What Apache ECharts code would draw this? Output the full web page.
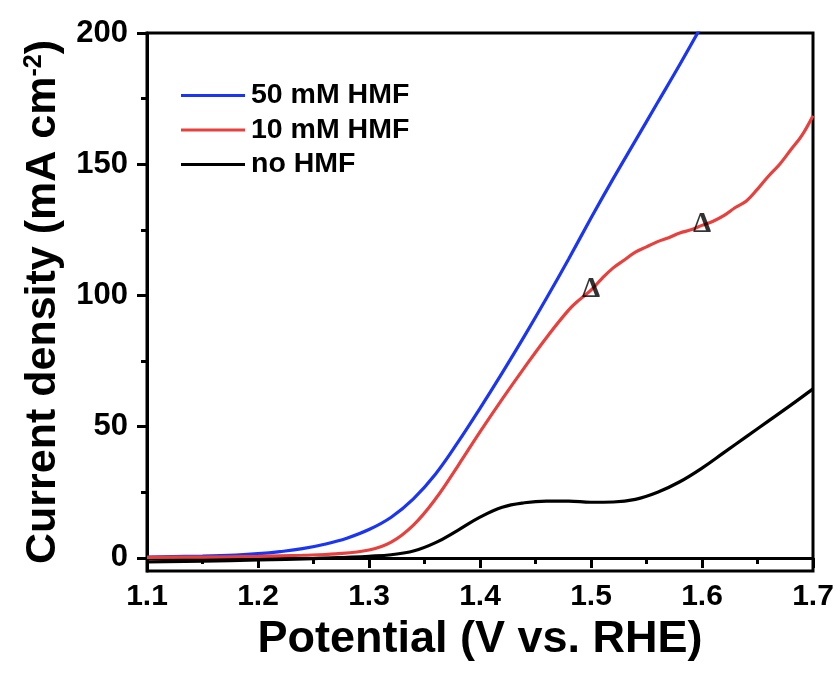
<!DOCTYPE html>
<html>
<head>
<meta charset="utf-8">
<script src="https://cdn.jsdelivr.net/npm/echarts@6/dist/echarts.min.js"></script>
<style>
  html, body { margin: 0; padding: 0; background: #fff; }
  #chart { width: 840px; height: 682px; }
</style>
</head>
<body>
<div id="chart"></div>
<script>
// LSV curves: potential (V vs. RHE) and current density (mA cm^-2)
const potential50 = [1.10, 1.15, 1.18, 1.20, 1.22, 1.24, 1.26, 1.28, 1.30, 1.32, 1.34, 1.36, 1.38, 1.40, 1.42, 1.44, 1.46, 1.48, 1.50, 1.52, 1.54, 1.56, 1.58, 1.60];
const current50 = [0.3, 0.7, 1.1, 1.6, 2.4, 3.5, 5.2, 7.5, 10.8, 15.5, 22.5, 32, 44, 57, 70.5, 84.5, 99, 114, 129.5, 144.5, 159, 173.5, 188, 203];

const potential10 = [1.10, 1.15, 1.20, 1.24, 1.27, 1.30, 1.32, 1.34, 1.36, 1.38, 1.40, 1.42, 1.44, 1.46, 1.48, 1.49, 1.50, 1.51, 1.52, 1.53, 1.54, 1.55, 1.56, 1.57, 1.58, 1.59, 1.60, 1.61, 1.62, 1.63, 1.64, 1.65, 1.66, 1.67, 1.68, 1.69, 1.70];
const current10 = [0.2, 0.3, 0.6, 1.0, 1.5, 3.0, 6.0, 12.5, 22.5, 35, 48, 60.5, 72.5, 84, 94.5, 98.5, 102, 106.5, 110.5, 113.5, 116.5, 118.5, 120.5, 122, 123.8, 125, 126.7, 128.3, 130.5, 133.5, 136, 140.5, 145.5, 150, 155.5, 161, 168.5];

const potentialNo = [1.10, 1.15, 1.20, 1.25, 1.28, 1.30, 1.32, 1.34, 1.36, 1.38, 1.40, 1.42, 1.44, 1.46, 1.48, 1.50, 1.52, 1.54, 1.56, 1.58, 1.60, 1.62, 1.64, 1.66, 1.68, 1.70];
const currentNo = [-1.5, -1.2, -0.8, -0.3, 0.2, 0.6, 1.2, 2.6, 5.8, 10.5, 15.5, 19.3, 21.0, 21.6, 21.6, 21.2, 21.3, 22.3, 25.0, 29.0, 34.2, 40.2, 46.2, 52.2, 58.2, 64.4];

// Δ markers on the 10 mM HMF curve
const deltaPotential = [1.50, 1.60];
const deltaCurrent = [102, 126.7];

const seriesNames = ['50 mM HMF', '10 mM HMF', 'no HMF'];
const seriesColors = ['#1b35f5', '#e8403c', '#000000'];

const xTicks = [1.1, 1.2, 1.3, 1.4, 1.5, 1.6, 1.7];
const xMinorTicks = [1.15, 1.25, 1.35, 1.45, 1.55, 1.65];
const yTicks = [0, 50, 100, 150, 200];
const yMinorTicks = [25, 75, 125, 175];

const zip = (xs, ys) => xs.map((x, i) => [x, ys[i]]);

const FONT = '"Liberation Sans", Arial, sans-serif';

const chart = echarts.init(document.getElementById('chart'), null, { renderer: 'canvas' });

const xMin = 1.1, xMax = 1.7, yMin = -5, yMax = 200;

const baseAxisLine = { show: true, lineStyle: { color: '#000', width: 3 } };

chart.setOption({
  backgroundColor: '#fff',
  animation: false,
  grid: {
    left: 147, right: 27, top: 33, bottom: 111,
    show: true, borderColor: '#000', borderWidth: 3, backgroundColor: 'transparent'
  },
  legend: {
    orient: 'vertical',
    left: 176, top: 76,
    itemWidth: 64, itemHeight: 14, itemGap: 5.5,
    icon: 'path://M0,5.5 L64,5.5 L64,8.7 L0,8.7 Z',
    data: seriesNames.map((n, i) => ({ name: n, itemStyle: { color: seriesColors[i] } })),
    textStyle: { fontFamily: FONT, fontWeight: 'bold', fontSize: 28.5, color: '#000', padding: [0, 0, 0, 1] }
  },
  xAxis: [
    {
      type: 'value', min: xMin, max: xMax,
      name: 'Potential (V vs. RHE)', nameLocation: 'middle', nameGap: 33,
      nameTextStyle: { fontFamily: FONT, fontWeight: 'bold', fontSize: 45, color: '#000' },
      axisLine: baseAxisLine,
      axisTick: { show: true, inside: false, length: 10, lineStyle: { color: '#000', width: 3 }, customValues: xTicks },
      axisLabel: {
        show: true, margin: 11, customValues: xTicks,
        fontFamily: FONT, fontWeight: 'bold', fontSize: 30, color: '#000',
        formatter: v => v.toFixed(1)
      },
      splitLine: { show: false }
    },
    {
      type: 'value', min: xMin, max: xMax, position: 'bottom',
      axisLine: { show: false },
      axisTick: { show: true, inside: false, length: 6, lineStyle: { color: '#000', width: 3 }, customValues: xMinorTicks },
      axisLabel: { show: false },
      splitLine: { show: false }
    }
  ],
  yAxis: [
    {
      type: 'value', min: yMin, max: yMax,
      name: 'Current density (mA cm{sup|-2})', nameLocation: 'middle', nameGap: 82, nameRotate: 90,
      nameTextStyle: {
        fontFamily: FONT, fontWeight: 'bold', fontSize: 43, color: '#000',
        rich: { sup: { fontFamily: FONT, fontWeight: 'bold', fontSize: 25, color: '#000', verticalAlign: 'top', padding: [0, 0, 18, 0] } }
      },
      axisLine: baseAxisLine,
      axisTick: { show: true, inside: false, length: 10, lineStyle: { color: '#000', width: 3 }, customValues: yTicks },
      axisLabel: {
        show: true, margin: 19, customValues: yTicks,
        fontFamily: FONT, fontWeight: 'bold', fontSize: 31, color: '#000'
      },
      splitLine: { show: false }
    },
    {
      type: 'value', min: yMin, max: yMax, position: 'left',
      axisLine: { show: false },
      axisTick: { show: true, inside: false, length: 6, lineStyle: { color: '#000', width: 3 }, customValues: yMinorTicks },
      axisLabel: { show: false },
      splitLine: { show: false }
    }
  ],
  series: [
    {
      name: seriesNames[0], type: 'line', data: zip(potential50, current50),
      smooth: 0.4, symbol: 'none', clip: true, z: 3,
      lineStyle: { color: seriesColors[0], width: 3.2 }, itemStyle: { color: seriesColors[0] }
    },
    {
      name: seriesNames[1], type: 'line', data: zip(potential10, current10),
      smooth: 0.4, symbol: 'none', clip: true, z: 3,
      lineStyle: { color: seriesColors[1], width: 3.2 }, itemStyle: { color: seriesColors[1] }
    },
    {
      name: seriesNames[2], type: 'line', data: zip(potentialNo, currentNo),
      smooth: 0.4, symbol: 'none', clip: true, z: 3,
      lineStyle: { color: seriesColors[2], width: 3.2 }, itemStyle: { color: seriesColors[2] }
    },
    {
      name: 'delta', type: 'scatter', data: zip(deltaPotential, deltaCurrent),
      symbol: 'circle', symbolSize: 1, itemStyle: { color: 'transparent' }, z: 5,
      label: {
        show: true, position: 'inside', formatter: 'Δ', offset: [0, -1],
        fontFamily: '"Liberation Serif", "Times New Roman", serif', fontWeight: 'bold', fontSize: 29, color: '#000'
      }
    }
  ]
});
</script>
</body>
</html>
